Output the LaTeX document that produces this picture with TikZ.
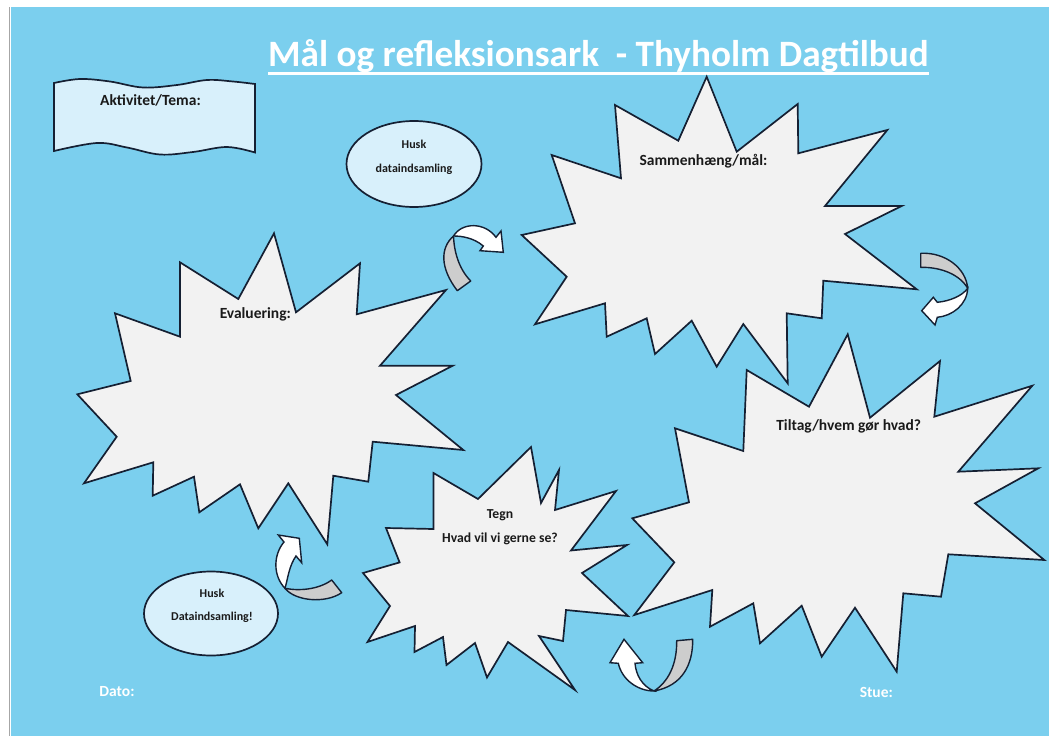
\documentclass[tikz,border=0pt]{standalone}
\usepackage{fontspec}
\setmainfont{Carlito}
\definecolor{bgblue}{HTML}{7BCFEE}
\definecolor{lineC}{HTML}{152033}
\definecolor{burstC}{HTML}{F2F2F2}
\definecolor{paleC}{HTML}{D8F0FB}
\definecolor{greyC}{HTML}{CDCDCD}
\definecolor{txtC}{HTML}{1A1A1A}
\begin{document}
\begin{tikzpicture}[x=1pt,y=-1pt,
  burst/.style={draw=lineC, fill=burstC, line width=1.7pt, line join=miter},
  pale/.style={draw=lineC, fill=paleC, line width=1.7pt},
  backpart/.style={draw=lineC, fill=greyC, line width=1.4pt, line join=round},
  frontpart/.style={draw=lineC, fill=white, line width=1.4pt, line join=miter},
  lbl/.style={inner sep=0pt, anchor=base, text=txtC, font=\fontsize{15.5}{18}\selectfont\bfseries},
  small/.style={inner sep=0pt, anchor=base, text=txtC, font=\fontsize{12}{14}\selectfont\bfseries},
  mid/.style={inner sep=0pt, anchor=base, text=txtC, font=\fontsize{13.7}{16}\selectfont\bfseries},
  wlbl/.style={inner sep=0pt, anchor=base, text=white, font=\fontsize{15.5}{18}\selectfont\bfseries}]
\useasboundingbox (0,0) rectangle (1049,736);
\fill[white] (0,0) rectangle (1049,736);
\fill[bgblue] (10.5,7) rectangle (1049,736);
\draw[gray!70, line width=1.5pt] (9.5,7) -- (9.5,736);

% title
\node[inner sep=0pt, anchor=base, text=white, font=\fontsize{37.2}{40}\selectfont\bfseries] (title) at (598.5,66.7) {Mål og refleksionsark\ \ - Thyholm Dagtilbud};
\draw[white, line width=3.2pt] ([yshift=-7pt]title.base west) -- ([yshift=-7pt]title.base east);

% banner
\draw[pale] plot[smooth, tension=0.6] coordinates {(54,83) (80,79) (110,81.5) (143,87.5) (177,85) (207,80) (233,81.5) (255,84)}
  -- plot[smooth, tension=0.6] coordinates {(255,152.5) (227,147) (193,152) (160,154.5) (127,147.5) (97,143) (54,151)} -- cycle;
\node[lbl] (aktiv) at (150.5,105) {Aktivitet/Tema:};

% ellipses
\draw[pale] (414,164) ellipse [x radius=67.5, y radius=43];
\node[small] (husk1) at (414,148) {Husk};
\node[small] (data1) at (414,172.5) {dataindsamling};
\draw[pale] (211,613.5) ellipse [x radius=67, y radius=42];
\node[small] (husk2) at (212,597) {Husk};
\node[small] (data2) at (212,620.5) {Dataindsamling!};

% Sammenhaeng starburst
\draw[burst] (706.7,76.7) -- (736.7,151.7) -- (797.7,104) -- (798.3,153.3) -- (887.3,130) -- (825,206) -- (901.7,206) -- (845,234) -- (916.7,289.3) -- (823.3,280.7) -- (821.7,318.3) -- (786.7,313.3) -- (787.7,383.3) -- (743.3,324) -- (716.7,366.7) -- (691.7,320.7) -- (655,354) -- (646.7,318.3) -- (606.7,336.7) -- (605,303.3) -- (535,324.3) -- (566.7,276.7) -- (521.7,235) -- (575,223.3) -- (551.7,155) -- (621,178.3) -- (615,105) -- (678.3,140.7) -- cycle;
\node[lbl] (samm) at (703.5,165) {Sammenhæng/mål:};

% Evaluering starburst
\draw[burst] (274,233.3) -- (296,312.3) -- (360,263.3) -- (356.7,314.3) -- (446,290) -- (380,365.7) -- (452.7,365.7) -- (396,395) -- (463.3,450) -- (372.7,441.7) -- (368.3,481.7) -- (333.3,475.7) -- (327.3,544.3) -- (288.3,483.3) -- (258.3,528.3) -- (240,484.3) -- (199.3,512.3) -- (194,476.7) -- (152.7,495.7) -- (153.3,462.3) -- (84,483.3) -- (116.7,436.7) -- (77.3,394.3) -- (130.7,381) -- (115,313.3) -- (180,336.7) -- (180,262.3) -- (238.3,299) -- cycle;
\node[lbl] (eval) at (255.3,318) {Evaluering:};

% Tiltag starburst
\draw[burst] (847.7,334.3) -- (870,417.7) -- (940,361) -- (934.3,416.7) -- (1032.3,385.7) -- (958.3,471.7) -- (1038.3,468.3) -- (975,503.3) -- (1044.3,560) -- (948.3,554.3) -- (941,596.7) -- (903.3,593.3) -- (896.7,671.7) -- (855,607.7) -- (821.7,656.7) -- (801.7,605.7) -- (760,643.3) -- (753.3,603.3) -- (710,626.7) -- (712.3,590) -- (634.3,615) -- (674.3,562.3) -- (632.3,518.3) -- (689,502.3) -- (675,428.3) -- (743.3,451) -- (746.7,370) -- (809,406.7) -- cycle;
\node[lbl] (tilt) at (848.7,430) {Tiltag/hvem gør hvad?};

% Tegn starburst
\draw[burst] (531,447) -- (541,503) -- (559,470) -- (555,510) -- (616,491) -- (571,550.5) -- (627,545) -- (582,573) -- (628,616) -- (566,610) -- (563,641) -- (539,636) -- (575,690) -- (508,642) -- (487,677.5) -- (475,643) -- (446.5,665) -- (443,637) -- (414.5,652) -- (415,626) -- (367.5,642) -- (390,606) -- (363,573) -- (399.6,562.4) -- (386,528) -- (433.5,529) -- (433.5,473) -- (478,499) -- cycle;
\node[mid] (tegn) at (500,518) {Tegn};
\node[mid] (hvad) at (500,542) {Hvad vil vi gerne se?};

% curved arrows
\draw[backpart] (457.3,290.7) .. controls (440,268) and (440,248) .. (453.5,236) .. controls (454,250) and (458,268) .. (470.7,281) -- cycle;
\draw[frontpart] (453.5,236) .. controls (462,222) and (485,222) .. (496,237.3) -- (501,231) -- (503.3,252.3) -- (480,250.7) -- (483.3,246) .. controls (474,238) and (462,236) .. (453.5,236) -- cycle;

\draw[backpart] (920.7,253.3) .. controls (945,252) and (966,268) .. (967.7,288.3) .. controls (960,275) and (942,267) .. (920.7,267.3) -- cycle;
\draw[frontpart] (967.7,288.3) .. controls (967,305) and (952,316) .. (937.3,317.3) -- (935,325) -- (921.7,310.7) -- (933.3,297.3) -- (937.3,302.3) .. controls (950,301) and (962,296) .. (967.7,288.3) -- cycle;

\draw[backpart] (285,588.3) .. controls (295,601) and (325,604) .. (341.7,592.7) -- (331.7,580) .. controls (318,590) and (298,591) .. (285,588.3) -- cycle;
\draw[frontpart] (285,588.3) .. controls (273,576) and (273,555) .. (284,542) -- (278.3,535) -- (299.3,538.3) -- (301.7,562.7) -- (296,556) .. controls (289,566) and (288,578) .. (285,588.3) -- cycle;

\draw[backpart] (676.7,640.7) -- (692.7,639.3) .. controls (693,665) and (682,686) .. (654,691) .. controls (668,682) and (677,665) .. (676.7,640.7) -- cycle;
\draw[frontpart] (654,691) .. controls (642,686) and (636,675) .. (635,663.3) -- (642.7,662.7) -- (624,639.3) -- (610,662.7) -- (618.3,663.3) .. controls (622,680) and (638,691) .. (654,691) -- cycle;

% footer
\node[wlbl] (dato) at (117,696) {Dato:};
\node[wlbl] (stue) at (876.3,697) {Stue:};
\end{tikzpicture}
\end{document}
